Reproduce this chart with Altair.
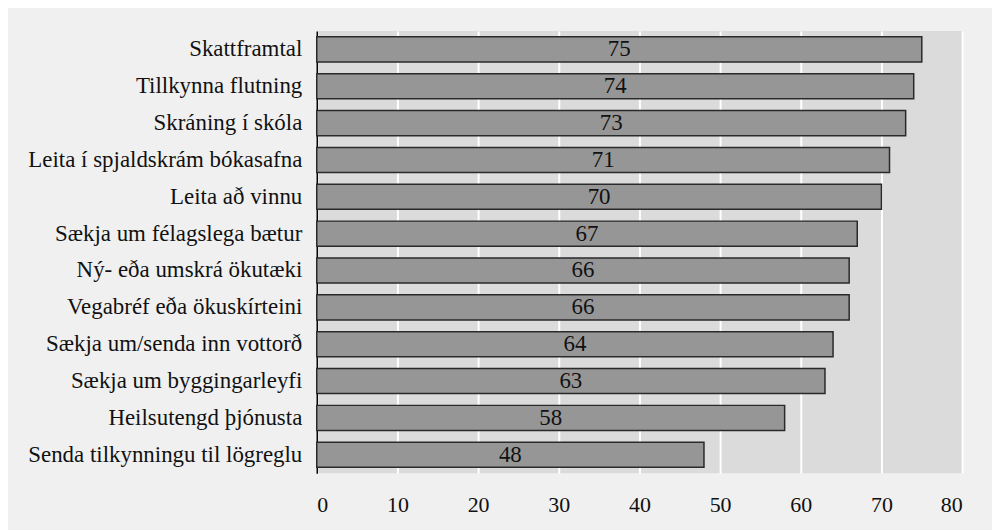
import altair as alt
import pandas as pd

categories = [
    "Skattframtal",
    "Tillkynna flutning",
    "Skráning í skóla",
    "Leita í spjaldskrám bókasafna",
    "Leita að vinnu",
    "Sækja um félagslega bætur",
    "Ný- eða umskrá ökutæki",
    "Vegabréf eða ökuskírteini",
    "Sækja um/senda inn vottorð",
    "Sækja um byggingarleyfi",
    "Heilsutengd þjónusta",
    "Senda tilkynningu til lögreglu",
]
values = [75, 74, 73, 71, 70, 67, 66, 66, 64, 63, 58, 48]
x_ticks = [0, 10, 20, 30, 40, 50, 60, 70, 80]

df = pd.DataFrame({"cat": categories, "val": values})
df["mid"] = df["val"] / 2

FONT = "Liberation Serif"

y_enc = alt.Y(
    "cat:N",
    sort=categories,
    title=None,
    scale=alt.Scale(paddingInner=0.32, paddingOuter=0.16),
    axis=alt.Axis(
        labelFont=FONT,
        labelFontSize=23,
        labelColor="#111111",
        labelPadding=15,
        ticks=False,
        domain=True,
        domainColor="#000000",
        domainWidth=1.5,
        grid=False,
        labelLimit=400,
    ),
)

bars = alt.Chart(df).mark_bar(
    color="#969696", stroke="#2a2a2a", strokeWidth=1.5
).encode(
    x=alt.X(
        "val:Q",
        title=None,
        scale=alt.Scale(domain=[0, 80], nice=False),
        axis=alt.Axis(
            values=x_ticks,
            labelFont=FONT,
            labelFontSize=22,
            labelColor="#111111",
            labelPadding=21,
            ticks=False,
            domain=False,
            grid=True,
            gridColor="#ffffff",
            gridWidth=2,
        ),
    ),
    y=y_enc,
)

text = alt.Chart(df).mark_text(
    font=FONT, fontSize=23, color="#111111", baseline="middle", align="center"
).encode(
    x=alt.X("mid:Q"),
    y=alt.Y("cat:N", sort=categories),
    text=alt.Text("val:Q"),
)

chart = (
    alt.layer(bars, text)
    .properties(
        width=648,
        height=444,
        background="#f0f0f0",
        autosize=alt.AutoSizeParams(type="none"),
        padding={"left": 310, "top": 22, "right": 30, "bottom": 60},
    )
    .configure_view(fill="#dbdbdb", stroke=None)
)

chart.save("out.html", embed_options={"renderer": "svg", "actions": False})
